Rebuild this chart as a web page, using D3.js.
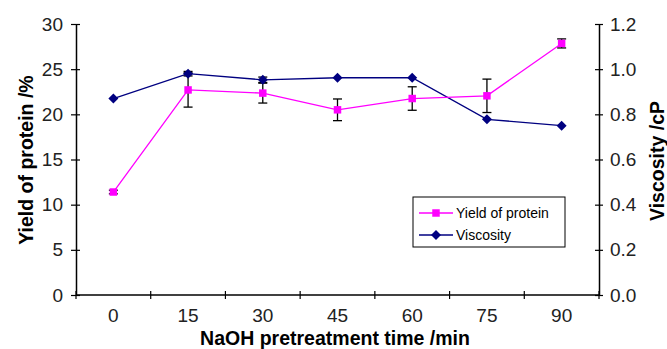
<!DOCTYPE html>
<html>
<head>
<meta charset="utf-8">
<script src="https://cdn.jsdelivr.net/npm/d3@7"></script>
<style>
  body { margin: 0; background: #fff; }
  text { font-family: "Liberation Sans", Arial, sans-serif; }
</style>
</head>
<body>
<script>
var times = ["0", "15", "30", "45", "60", "75", "90"];
var yieldVals = [11.4, 22.7, 22.35, 20.5, 21.75, 22.05, 27.85];
var yieldErr = [0.2, 1.9, 1.1, 1.2, 1.3, 1.85, 0.5];
var viscVals = [0.87, 0.98, 0.953, 0.962, 0.962, 0.778, 0.75];
var viscErr = [0, 0.01, 0.012, 0, 0, 0, 0];
var leftTicks = [0, 5, 10, 15, 20, 25, 30];
var rightTicks = [0, 0.2, 0.4, 0.6, 0.8, 1.0, 1.2];

var W = 667, H = 349;
var m = {left: 76, right: 68, top: 24, bottom: 54};

var svg = d3.select("body").append("svg")
    .attr("width", W)
    .attr("height", H);

var x = d3.scaleBand().domain(times).range([m.left, W - m.right]);
var yL = d3.scaleLinear().domain([0, 30]).range([H - m.bottom, m.top]);
var yR = d3.scaleLinear().domain([0, 1.2]).range([H - m.bottom, m.top]);

function cx(i) { return x(times[i]) + x.bandwidth() / 2; }

// axes
var gx = svg.append("g")
    .attr("transform", "translate(0," + (H - m.bottom) + ")");
gx.append("line").attr("x1", m.left).attr("x2", W - m.right)
    .attr("stroke", "#000").attr("stroke-width", 1.5);
var xb = [m.left].concat(times.map(function(t) { return x(t) + x.bandwidth(); }));
gx.selectAll("line.tk").data(xb).enter().append("line").attr("class", "tk")
    .attr("x1", function(d) { return d; }).attr("x2", function(d) { return d; })
    .attr("y1", -4).attr("y2", 4).attr("stroke", "#000").attr("stroke-width", 1.2);
gx.selectAll("text").data(times).enter().append("text")
    .attr("x", function(d) { return x(d) + x.bandwidth() / 2; })
    .attr("y", 27).attr("text-anchor", "middle")
    .attr("font-size", 19).attr("fill", "#222").text(function(d) { return d; });

var gl = svg.append("g").attr("transform", "translate(" + m.left + ",0)");
gl.call(d3.axisLeft(yL).tickValues(leftTicks).tickSize(0).tickPadding(13));
gl.select(".domain").attr("stroke-width", 1.5);
gl.selectAll(".tick").append("line").attr("x1", -5).attr("x2", 4)
    .attr("stroke", "#000").attr("stroke-width", 1.2);
gl.selectAll(".tick text").attr("font-size", 19).attr("fill", "#222")
    .attr("font-family", "Liberation Sans, Arial, sans-serif");

var gr = svg.append("g").attr("transform", "translate(" + (W - m.right) + ",0)");
gr.call(d3.axisRight(yR).tickValues(rightTicks).tickSize(0).tickPadding(11)
    .tickFormat(d3.format(".1f")));
gr.select(".domain").attr("stroke-width", 1.5);
gr.selectAll(".tick").append("line").attr("x1", -4).attr("x2", 4)
    .attr("stroke", "#000").attr("stroke-width", 1.2);
gr.selectAll(".tick text").attr("font-size", 19).attr("fill", "#222")
    .attr("font-family", "Liberation Sans, Arial, sans-serif");

// titles
svg.append("text").attr("x", 335).attr("y", 345).attr("text-anchor", "middle")
    .attr("font-size", 19.5).attr("font-weight", "bold").text("NaOH pretreatment time /min");
svg.append("text").attr("transform", "translate(33,160) rotate(-90)")
    .attr("text-anchor", "middle").attr("font-size", 19.5).attr("font-weight", "bold")
    .text("Yield of protein /%");
svg.append("text").attr("transform", "translate(664,161) rotate(-90)")
    .attr("text-anchor", "middle").attr("font-size", 19.5).attr("font-weight", "bold")
    .text("Viscosity /cP");

// viscosity series
var idx = d3.range(times.length);
svg.append("path").datum(idx)
    .attr("fill", "none").attr("stroke", "#000080").attr("stroke-width", 1.3)
    .attr("d", d3.line().x(cx).y(function(i) { return yR(viscVals[i]); }));

// error bars
function errBars(vals, errs, sc) {
    var g = svg.append("g").attr("stroke", "#000").attr("stroke-width", 1.3);
    idx.forEach(function(i) {
        if (!errs[i]) return;
        var lo = sc(vals[i] - errs[i]), hi = sc(vals[i] + errs[i]);
        g.append("line").attr("x1", cx(i)).attr("x2", cx(i)).attr("y1", lo).attr("y2", hi);
        g.append("line").attr("x1", cx(i) - 4.5).attr("x2", cx(i) + 4.5).attr("y1", lo).attr("y2", lo);
        g.append("line").attr("x1", cx(i) - 4.5).attr("x2", cx(i) + 4.5).attr("y1", hi).attr("y2", hi);
    });
}
errBars(viscVals, viscErr, yR);
errBars(yieldVals, yieldErr, yL);

// yield series
svg.append("path").datum(idx)
    .attr("fill", "none").attr("stroke", "#ff00ff").attr("stroke-width", 1.3)
    .attr("d", d3.line().x(cx).y(function(i) { return yL(yieldVals[i]); }));

// rhombus marker like the spreadsheet one
var diamond = "M0,-5L5,0L0,5L-5,0Z";
var square = d3.symbol().type(d3.symbolSquare).size(56)();

svg.selectAll("path.vm").data(idx).enter().append("path").attr("class", "vm")
    .attr("d", diamond)
    .attr("transform", function(i) { return "translate(" + cx(i) + "," + yR(viscVals[i]) + ")"; })
    .attr("fill", "#000080");
svg.selectAll("path.ym").data(idx).enter().append("path").attr("class", "ym")
    .attr("d", square)
    .attr("transform", function(i) { return "translate(" + cx(i) + "," + yL(yieldVals[i]) + ")"; })
    .attr("fill", "#ff00ff");

// legend
var lg = svg.append("g").attr("transform", "translate(413,197)");
lg.append("rect").attr("width", 152).attr("height", 50)
    .attr("fill", "#fff").attr("stroke", "#000").attr("stroke-width", 1);
var items = [
    {name: "Yield of protein", color: "#ff00ff", sym: square, y: 16},
    {name: "Viscosity", color: "#000080", sym: diamond, y: 38}
];
items.forEach(function(it) {
    lg.append("line").attr("x1", 6).attr("x2", 40).attr("y1", it.y).attr("y2", it.y)
        .attr("stroke", it.color).attr("stroke-width", 1.3);
    lg.append("path").attr("d", it.sym).attr("fill", it.color)
        .attr("transform", "translate(23," + it.y + ")");
    lg.append("text").attr("x", 43).attr("y", it.y + 5).attr("font-size", 14)
        .text(it.name);
});
</script>
</body>
</html>
